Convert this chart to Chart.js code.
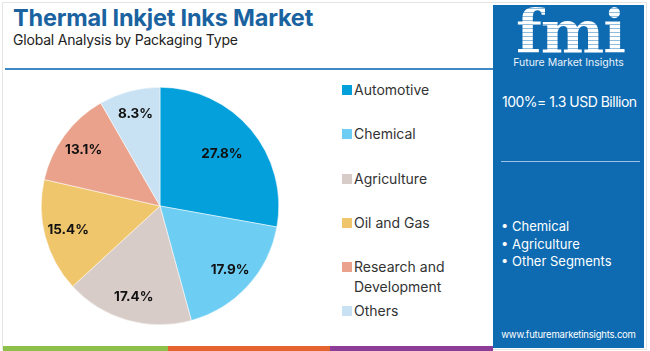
<!doctype html>
<html lang="en">
<head>
<meta charset="utf-8">
<title>Thermal Inkjet Inks Market</title>
<script src="https://cdn.jsdelivr.net/npm/chart.js@4.4.0/dist/chart.umd.min.js"></script>
<style>
  html, body { margin: 0; padding: 0; background: #fff; }
  body { width: 650px; height: 351px; position: relative; overflow: hidden; font-family: "Open Sans", sans-serif; }
  .frame { position: absolute; left: 2px; top: 2px; width: 645px; height: 348px; border: 1px solid #e4e4e4; box-sizing: border-box; }
  h1 { position: absolute; left: 13px; top: 3px; margin: 0; font: 700 23.5px "Inter", sans-serif; color: #1a63a0; letter-spacing: -0.2px; }
  h2 { position: absolute; left: 13px; top: 31px; margin: 0; font: 400 14px "Inter", sans-serif; color: #222; letter-spacing: -0.2px; }
  .rule { position: absolute; left: 5px; top: 68px; width: 488px; height: 2px; background: #3f88c5; }
  #wrap { position: absolute; left: 40px; top: 86px; width: 240px; height: 240px; }
  #legend { position: absolute; left: 342px; top: 80px; margin: 0; padding: 0; list-style: none; font: 400 14px "Inter", sans-serif; color: #333; }
  #legend li { position: absolute; left: 0; white-space: nowrap; line-height: 20px; }
  #legend span.sw { position: absolute; left: 0; top: 5px; width: 10px; height: 10px; }
  #legend span.tx { position: absolute; left: 12px; top: 0; }
  .panel { position: absolute; left: 493px; top: 5px; width: 151px; height: 343px; background: #0e6bb1; color: #fff; }
  .logo { position: absolute; left: 23px; top: -8px; font: 900 60px "DejaVu Serif", serif; letter-spacing: -1px; transform: scaleX(1.0); transform-origin: left top;
          background: repeating-linear-gradient(#fff 0 3px, rgba(255,255,255,0.55) 3px 4px); -webkit-background-clip: text; background-clip: text; color: transparent; }
  .fmi-name { position: absolute; left: 0; width: 151px; top: 51px; text-align: center; font: 400 10.5px "Inter", sans-serif; color: #e8f1fa; }
  .total { position: absolute; left: 9px; top: 88px; font: 400 14px "Inter", sans-serif; letter-spacing: -0.5px; white-space: nowrap; }
  .pline { position: absolute; left: 8px; top: 156px; width: 139px; height: 1px; background: #9cc3e6; }
  .segs { position: absolute; left: 8px; top: 213px; font: 400 13px "Inter", sans-serif; line-height: 17.5px; }
  .url { position: absolute; left: 0; width: 151px; top: 324px; text-align: center; font: 400 9.5px "Inter", sans-serif; letter-spacing: -0.2px; }
  .strip { position: absolute; top: 346px; height: 5px; }
</style>
</head>
<body>
<div class="frame"></div>
<h1>Thermal Inkjet Inks Market</h1>
<h2>Global Analysis by Packaging Type</h2>
<div class="rule"></div>
<div id="wrap"><canvas id="chart"></canvas></div>
<ul id="legend"></ul>
<div class="panel">
  <div class="logo">fmi</div>
  <div class="fmi-name">Future Market Insights</div>
  <div class="total">100%= 1.3 USD Billion</div>
  <div class="pline"></div>
  <div class="segs">• Chemical<br>• Agriculture<br>• Other Segments</div>
  <div class="url">www.futuremarketinsights.com</div>
</div>
<div class="strip" style="left:3px;width:165px;background:#8dc04a"></div>
<div class="strip" style="left:168px;width:162px;background:#e4632f"></div>
<div class="strip" style="left:330px;width:163px;background:#8c3d97"></div>
<script>
var categories = ['Automotive', 'Chemical', 'Agriculture', 'Oil and Gas', 'Research and Development', 'Others'];
var shares = [27.8, 17.9, 17.4, 15.4, 13.1, 8.3];
var colors = ['#04a0db', '#6dcdf3', '#d8ccc8', '#f0c66c', '#eba28c', '#c8e2f4'];
var legendTop = [0, 44, 89, 133, 177, 221]; // legend rows, px from list top
var legendLines = [['Automotive'], ['Chemical'], ['Agriculture'], ['Oil and Gas'], ['Research and', 'Development'], ['Others']];

// html legend
var ul = document.getElementById('legend');
categories.forEach(function (c, i) {
  var li = document.createElement('li');
  li.style.top = legendTop[i] + 'px';
  li.innerHTML = '<span class="sw" style="background:' + colors[i] + '"></span><span class="tx">' + legendLines[i].join('<br>') + '</span>';
  ul.appendChild(li);
});

// percent labels inside slices
var sliceLabels = {
  id: 'sliceLabels',
  afterDatasetsDraw: function (chart) {
    var ctx = chart.ctx;
    var meta = chart.getDatasetMeta(0);
    ctx.save();
    ctx.font = '700 13.5px "Inter", sans-serif';
    ctx.fillStyle = '#111';
    ctx.textAlign = 'center';
    ctx.textBaseline = 'middle';
    meta.data.forEach(function (arc, i) {
      var mid = (arc.startAngle + arc.endAngle) / 2;
      var r = arc.outerRadius * (i === 0 ? 0.68 : 0.8);
      ctx.fillText(shares[i].toFixed(1) + '%', arc.x + Math.cos(mid) * r, arc.y + Math.sin(mid) * r);
    });
    ctx.restore();
  }
};

new Chart(document.getElementById('chart').getContext('2d'), {
  type: 'pie',
  data: {
    labels: categories,
    datasets: [{
      data: shares,
      backgroundColor: colors,
      borderColor: '#ffffff',
      borderWidth: 0.5
    }]
  },
  options: {
    responsive: true,
    maintainAspectRatio: false,
    animation: false,
    layout: { padding: 1 },
    plugins: { legend: { display: false }, tooltip: { enabled: false } }
  },
  plugins: [sliceLabels]
});
</script>
</body>
</html>
